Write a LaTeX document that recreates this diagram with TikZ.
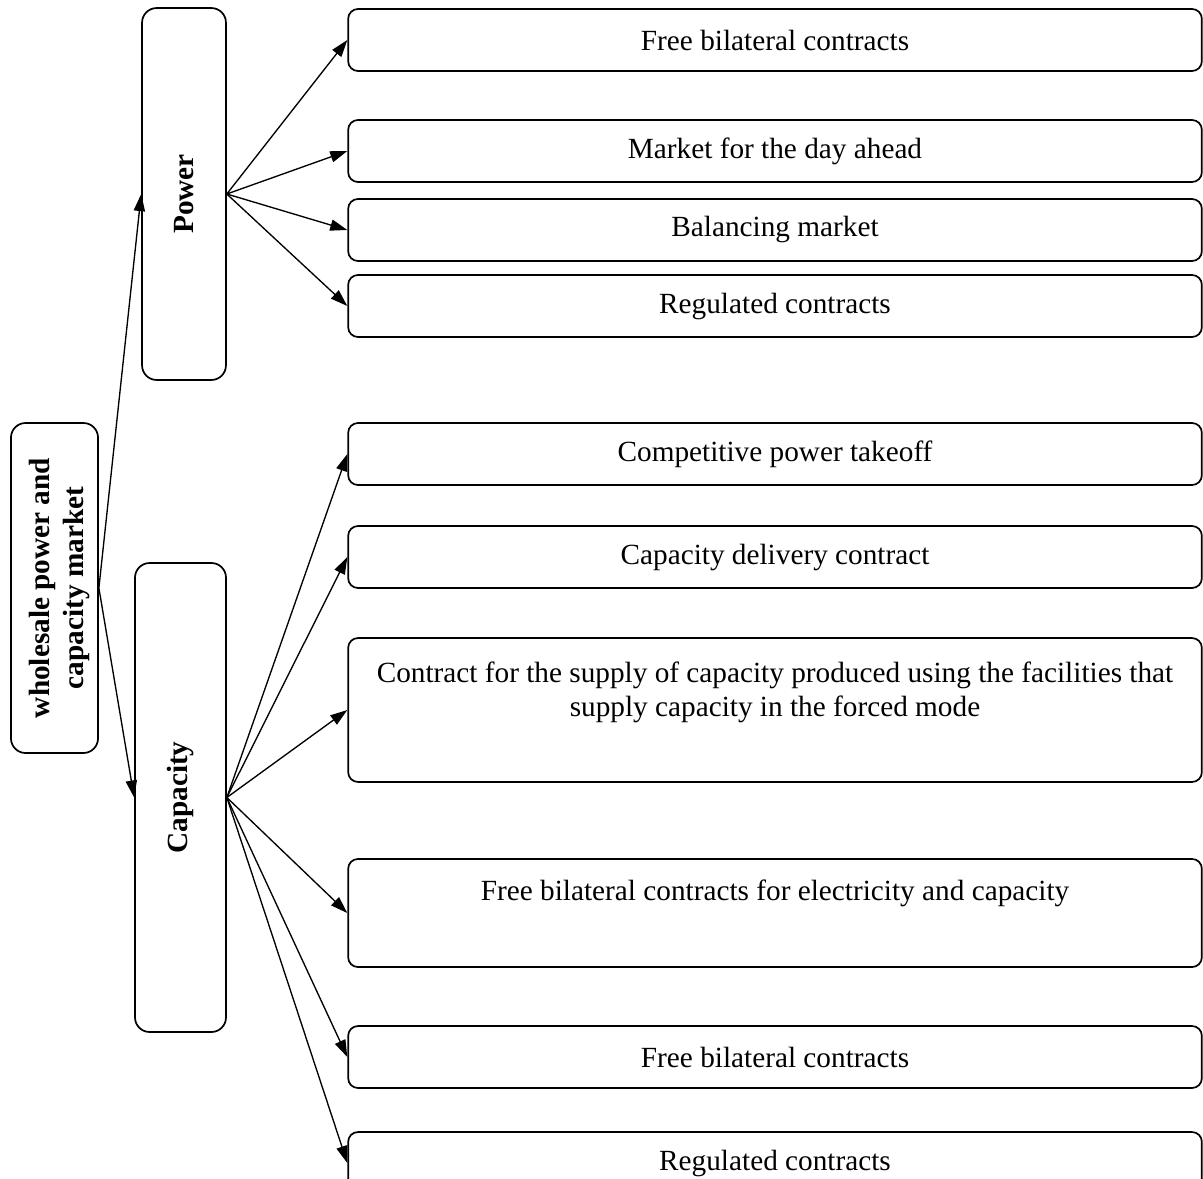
\documentclass[tikz,border=0pt]{standalone}
\usepackage{fontspec}
\setmainfont{Liberation Serif}
\usetikzlibrary{arrows.meta}

\begin{document}
\begin{tikzpicture}[x=0.41pt, y=-0.41pt, >={Triangle[length=7pt,width=4.6pt]},
  font=\fontsize{12}{14}\selectfont,
  item/.style={draw, rounded corners=4pt, line width=0.7pt, inner sep=0pt,
    minimum width=350pt, minimum height=25.4pt},
  side/.style={draw, rounded corners=6pt, line width=0.7pt, inner sep=0pt,
    font=\fontsize{12}{14}\selectfont\bfseries}]
\useasboundingbox (0,0) rectangle (1203,1178);

% left column
\node[side, minimum width=35.7pt, minimum height=135.3pt] (market) at (54.5,588) {};
\node[font=\fontsize{12}{14}\selectfont\bfseries] (markett) at (60,588)
  {\rotatebox{90}{\begin{tabular}{@{}c@{}}wholesale power and\\capacity market\end{tabular}}};
\node[side, minimum width=34.4pt, minimum height=152.5pt] (power) at (184,194)
  {\rotatebox{90}{Power}};
\node[side, minimum width=37.3pt, minimum height=192.3pt] (capacity) at (180.5,797.5)
  {\rotatebox{90}{Capacity}};

% power items
\node[item] (p1) at (775,40)  {Free bilateral contracts};
\node[item] (p2) at (775,151) {Market for the day ahead};
\node[item] (p3) at (775,230) {Balancing market};
\node[item] (p4) at (775,306) {Regulated contracts};

% capacity items
\node[item] (c1) at (775,454) {Competitive power takeoff};
\node[item] (c2) at (775,557) {Capacity delivery contract};
\node[item, minimum height=59pt] (c3) at (775,710) {};
\node[align=center] (c3t) at (775,692)
  {Contract for the supply of capacity produced using the facilities that\\
   supply capacity in the forced mode};
\node[item, minimum height=44.3pt] (c4) at (775,913) {};
\node (c4t) at (775,893) {Free bilateral contracts for electricity and capacity};
\node[item] (c5) at (775,1057) {Free bilateral contracts};
\node[item] (c6) at (775,1163) {Regulated contracts};

\draw[->, line width=0.55pt] (market.east) -- (power.west);
\draw[->, line width=0.55pt] (market.east) -- (capacity.west);
\foreach \t in {p1,p2,p3,p4}
  \draw[->, line width=0.55pt] (power.east) -- (\t.west);
\foreach \t in {c1,c2,c3,c4,c5,c6}
  \draw[->, line width=0.55pt] (capacity.east) -- (\t.west);
\end{tikzpicture}
\end{document}
